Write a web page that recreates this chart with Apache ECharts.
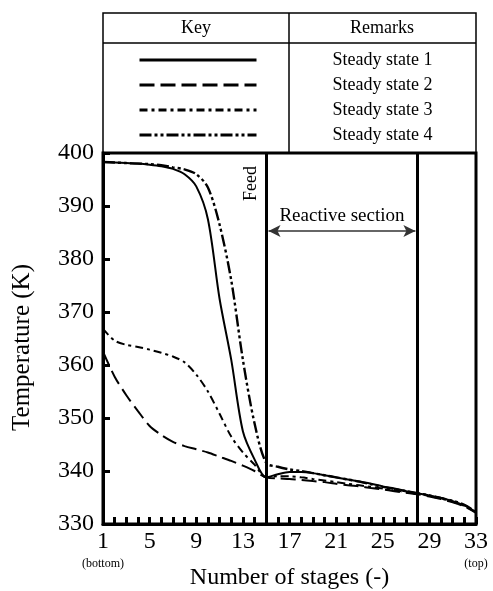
<!DOCTYPE html>
<html>
<head>
<meta charset="utf-8">
<script src="https://cdn.jsdelivr.net/npm/echarts@6/dist/echarts.min.js"></script>
<style>
html,body{margin:0;padding:0;background:#fff;}
#chart{width:493px;height:591px;}
</style>
</head>
<body>
<div id="chart"></div>
<script>
// ---- data ----
var stages = [1,2,3,4,5,6,7,8,9,10,11,12,13,14,15,16,17,18,19,20,21,22,23,24,25,26,27,28,29,30,31,32,33];
var ss1 = [398.3,398.2,398.1,398.0,397.8,397.5,397.0,396.0,393.7,387.5,372.5,361.0,347.5,342.2,338.8,339.4,339.8,339.8,339.6,339.2,338.8,338.4,338.0,337.6,337.1,336.7,336.2,335.8,335.4,334.9,334.3,333.5,332.2];
var ss2 = [362.5,357.8,354.3,351.3,348.5,346.8,345.5,344.7,344.1,343.5,342.7,341.9,341.0,340.0,338.8,338.6,338.5,338.3,338.1,337.9,337.6,337.3,337.1,336.8,336.5,336.2,335.9,335.6,335.2,334.7,334.1,333.3,332.1];
var ss3 = [366.8,364.6,363.8,363.4,362.9,362.3,361.6,360.5,358.2,355.0,350.8,346.5,343.5,341.2,338.8,339.0,339.0,338.8,338.5,338.2,337.9,337.6,337.3,337.0,336.7,336.4,336.0,335.7,335.3,334.8,334.2,333.4,332.2];
var ss4 = [398.3,398.2,398.1,398.0,397.9,397.7,397.3,396.9,396.0,393.5,386.5,376.0,361.0,349.0,341.5,340.8,340.3,340.0,339.6,339.2,338.8,338.4,338.0,337.5,337.0,336.6,336.2,335.8,335.4,334.9,334.4,333.6,332.3];
var seriesNames = ['Steady state 1','Steady state 2','Steady state 3','Steady state 4'];
var xTickLabels = [1,5,9,13,17,21,25,29,33];
var yTickLabels = [330,340,350,360,370,380,390,400];
var feedStage = 15;
var reactiveEndStage = 28;

function pairs(v){ return stages.map(function(s,i){ return [s, v[i]]; }); }

var FONT = "'Liberation Serif', 'DejaVu Serif', serif";
var chart = echarts.init(document.getElementById('chart'), null, {renderer:'canvas'});

var dashes = ['solid', [15,6], [8,4,3,4], [12,3,3,3,3,3]];
var widths = [2, 2, 2, 2.4];
var allData = [ss1, ss2, ss3, ss4];

var series = allData.map(function(d, i){
  return {
    name: seriesNames[i],
    type: 'line',
    data: pairs(d),
    symbol: 'none',
    showSymbol: false,
    smooth: 0.3,
    lineStyle: {color:'#000', width: widths[i], type: dashes[i]},
    itemStyle: {color:'#000'},
    animation: false,
    z: 3
  };
});

series[0].markLine = {
  silent: true, animation: false,
  symbol: ['none','none'],
  lineStyle: {color:'#000', width:3, type:'solid'},
  data: [
    {xAxis: feedStage, label: {show:true, formatter:'Feed', position:'insideEndTop', distance: 6,
      padding: [0, 7, 0, 0], fontFamily: FONT, fontSize: 18, color:'#000'}},
    {xAxis: reactiveEndStage, label: {show:false}}
  ]
};
series[1].markLine = {
  silent: true, animation: false,
  symbol: ['arrow','arrow'], symbolSize: [9,12],
  lineStyle: {color:'#333', width:1.5, type:'solid'},
  label: {show:true, position:'middle', formatter:'Reactive section', fontFamily: FONT, fontSize: 19, color:'#000', distance: 5},
  data: [[{coord:[feedStage+0.2, 385.3]}, {coord:[reactiveEndStage-0.2, 385.3]}]]
};

var option = {
  backgroundColor: '#fff',
  animation: false,
  textStyle: {fontFamily: FONT, color:'#000'},
  grid: {left: 103, right: 17, top: 153, bottom: 67, show: true, borderColor:'#000', borderWidth: 3,
    containLabel: false, outerBoundsMode: 'none'},
  legend: {
    orient: 'vertical', left: 138, top: 51, padding: 0,
    itemWidth: 117, itemHeight: 18, itemGap: 7,
    selectedMode: false,
    itemStyle: {opacity: 0},
    lineStyle: {width: 3},
    textStyle: {fontFamily: FONT, fontSize: 18, color:'#000', padding: [0,0,0,71]},
    data: seriesNames
  },
  xAxis: {
    type: 'value', min: 1, max: 33, interval: 1,
    name: 'Number of stages (-)', nameLocation: 'middle', nameGap: 42, nameMoveOverlap: false,
    nameTextStyle: {fontFamily: FONT, fontSize: 24, color:'#000'},
    axisLine: {lineStyle: {color:'#000', width:3}},
    axisTick: {inside: true, length: 7, lineStyle: {color:'#000', width: 3}},
    splitLine: {show:false},
    axisLabel: {
      margin: 6, fontFamily: FONT, fontSize: 24, color:'#000', lineHeight: 24,
      formatter: function(v){
        if (xTickLabels.indexOf(v) < 0) return '';
        if (v === 1) return v + '\n{s|(bottom)}';
        if (v === 33) return v + '\n{s|(top)}';
        return '' + v;
      },
      rich: {s: {fontFamily: FONT, fontSize: 12, lineHeight: 20, color:'#000'}}
    }
  },
  yAxis: {
    type: 'value', min: 330, max: 400, interval: 10,
    name: 'Temperature (K)', nameLocation: 'middle', nameGap: 68, nameMoveOverlap: false,
    nameTextStyle: {fontFamily: FONT, fontSize: 25, color:'#000', padding: [0, 18, 0, 0]},
    axisLine: {show: true, lineStyle: {color:'#000', width:3}},
    axisTick: {show: true, inside: true, length: 7, lineStyle: {color:'#000', width: 3}},
    splitLine: {show:false},
    axisLabel: {
      margin: 9, fontFamily: FONT, fontSize: 24, color:'#000',
      formatter: function(v){ return yTickLabels.indexOf(v) >= 0 ? '' + v : ''; }
    }
  },
  graphic: [
    {type:'rect', shape:{x:103, y:13, width:373, height:140}, style:{fill:'none', stroke:'#000', lineWidth:1.5}, silent:true},
    {type:'line', shape:{x1:103, y1:43, x2:476, y2:43}, style:{stroke:'#000', lineWidth:1.5}, silent:true},
    {type:'line', shape:{x1:289, y1:13, x2:289, y2:153}, style:{stroke:'#000', lineWidth:1.5}, silent:true},
    {type:'text', x:196, y:28, style:{text:'Key', font:"18px 'Liberation Serif'", fill:'#000', align:'center', verticalAlign:'middle'}, silent:true},
    {type:'text', x:382, y:28, style:{text:'Remarks', font:"18px 'Liberation Serif'", fill:'#000', align:'center', verticalAlign:'middle'}, silent:true}
  ],
  series: series
};
chart.setOption(option);
</script>
</body>
</html>
